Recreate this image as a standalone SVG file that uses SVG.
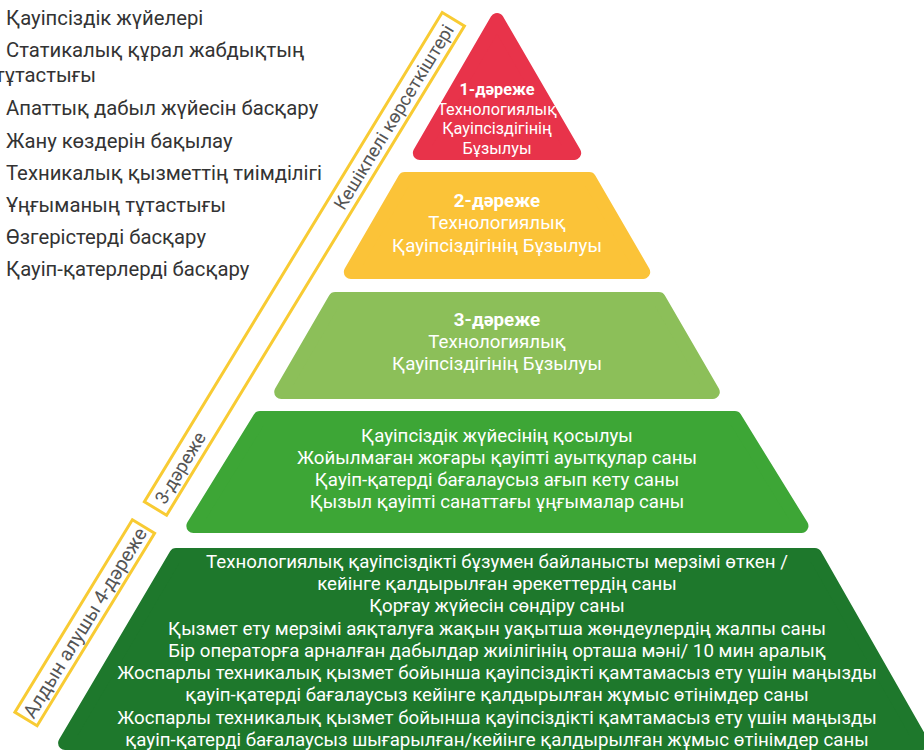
<svg xmlns="http://www.w3.org/2000/svg" width="924" height="750" viewBox="0 0 924 750">
<style>
text{font-family:Roboto,"Noto Sans","Liberation Sans",sans-serif}
.list{font-size:20.3px;fill:#333}
.tier{stroke-linejoin:round;stroke-width:14}
.t{fill:#fff;text-anchor:middle;font-size:18.7px}
.t1{font-size:16.3px}
.h{font-weight:700}
.box{fill:none;stroke:#F8CB33;stroke-width:3}
.dl{font-size:18.5px;fill:#555}
.dl2{font-size:19.5px}
</style>
<rect width="924" height="750" fill="#fff"/>
<g id="legend" class="list">
<text x="6" y="25">Қауіпсіздік жүйелері</text>
<text x="6" y="57">Статикалық құрал жабдықтың</text>
<text x="-5" y="82">тұтастығы</text>
<text x="6" y="115">Апаттық дабыл жүйесін басқару</text>
<text x="6" y="148">Жану көздерін бақылау</text>
<text x="6" y="180">Техникалық қызметтің тиімділігі</text>
<text x="6" y="212">Ұңғыманың тұтастығы</text>
<text x="6" y="244">Өзгерістерді басқару</text>
<text x="6" y="276">Қауіп-қатерлерді басқару</text>
</g>
<g id="label-lagging">
<g transform="translate(304.4,263.85) rotate(-58.67)">
<rect x="-286.4" y="-13" width="572.8" height="26" class="box"/>
<text x="278" y="6.5" text-anchor="end" class="dl">Кешікпелі көрсеткіштері</text>
<text x="-279" y="6.5" class="dl">3-дәреже</text>
</g>
</g>
<g id="label-leading">
<g transform="translate(84.75,622.75) rotate(-58.6)">
<rect x="-112.75" y="-13" width="225.5" height="26" class="box"/>
<text x="0" y="7" text-anchor="middle" class="dl dl2">Алдын алушы 4-дәреже</text>
</g>
</g>
<g id="tier1">
<polygon class="tier" points="497,19.95 574.17,153 419.83,153" fill="#E8334A" stroke="#E8334A"/>
<text class="t t1 h" x="497" y="95">1-дәреже</text>
<text class="t t1" x="497" y="114.5">Технологиялық</text>
<text class="t t1" x="497" y="134">Қауіпсіздігінің</text>
<text class="t t1" x="497" y="153.5">Бұзылуы</text>
</g>
<g id="tier2">
<polygon class="tier" points="404.75,179 589.25,179 643.19,272 350.81,272" fill="#FBC338" stroke="#FBC338"/>
<text class="t h" x="497" y="207">2-дәреже</text>
<text class="t" x="497" y="229">Технологиялық</text>
<text class="t" x="497" y="251.5">Қауіпсіздігінің Бұзылуы</text>
</g>
<g id="tier3">
<polygon class="tier" points="335.15,299 658.85,299 712.79,392 281.21,392" fill="#8CBF59" stroke="#8CBF59"/>
<text class="t h" x="497" y="326">3-дәреже</text>
<text class="t" x="497" y="348">Технологиялық</text>
<text class="t" x="497" y="370">Қауіпсіздігінің Бұзылуы</text>
</g>
<g id="tier4">
<polygon class="tier" points="259.98,418 734.82,418 801.46,526 193.34,526" fill="#3DA636" stroke="#3DA636"/>
<text class="t" x="497" y="442">Қауіпсіздік жүйесінің қосылуы</text>
<text class="t" x="497" y="464">Жойылмаған жоғары қауіпті ауытқулар саны</text>
<text class="t" x="497" y="486">Қауіп-қатерді бағалаусыз ағып кету саны</text>
<text class="t" x="497" y="508">Қызыл қауіпті санаттағы ұңғымалар саны</text>
</g>
<g id="tier5">
<polygon class="tier" points="176,555 814.93,555 922.09,743 65.08,743" fill="#1E782C" stroke="#1E782C"/>
<text class="t" x="497" y="568">Технологиялық қауіпсіздікті бұзумен байланысты мерзімі өткен /</text>
<text class="t" x="497" y="590">кейінге қалдырылған әрекеттердің саны</text>
<text class="t" x="497" y="612">Қорғау жүйесін сөндіру саны</text>
<text class="t" x="497" y="634.5">Қызмет ету мерзімі аяқталуға жақын уақытша жөндеулердің жалпы саны</text>
<text class="t" x="497" y="657">Бір операторға арналған дабылдар жиілігінің орташа мәні/ 10 мин аралық</text>
<text class="t" x="497" y="679">Жоспарлы техникалық қызмет бойынша қауіпсіздікті қамтамасыз ету үшін маңызды</text>
<text class="t" x="497" y="701">қауіп-қатерді бағалаусыз кейінге қалдырылған жұмыс өтінімдер саны</text>
<text class="t" x="497" y="723.5">Жоспарлы техникалық қызмет бойынша қауіпсіздікті қамтамасыз ету үшін маңызды</text>
<text class="t" x="497" y="746">қауіп-қатерді бағалаусыз шығарылған/кейінге қалдырылған жұмыс өтінімдер саны</text>
</g>
</svg>
